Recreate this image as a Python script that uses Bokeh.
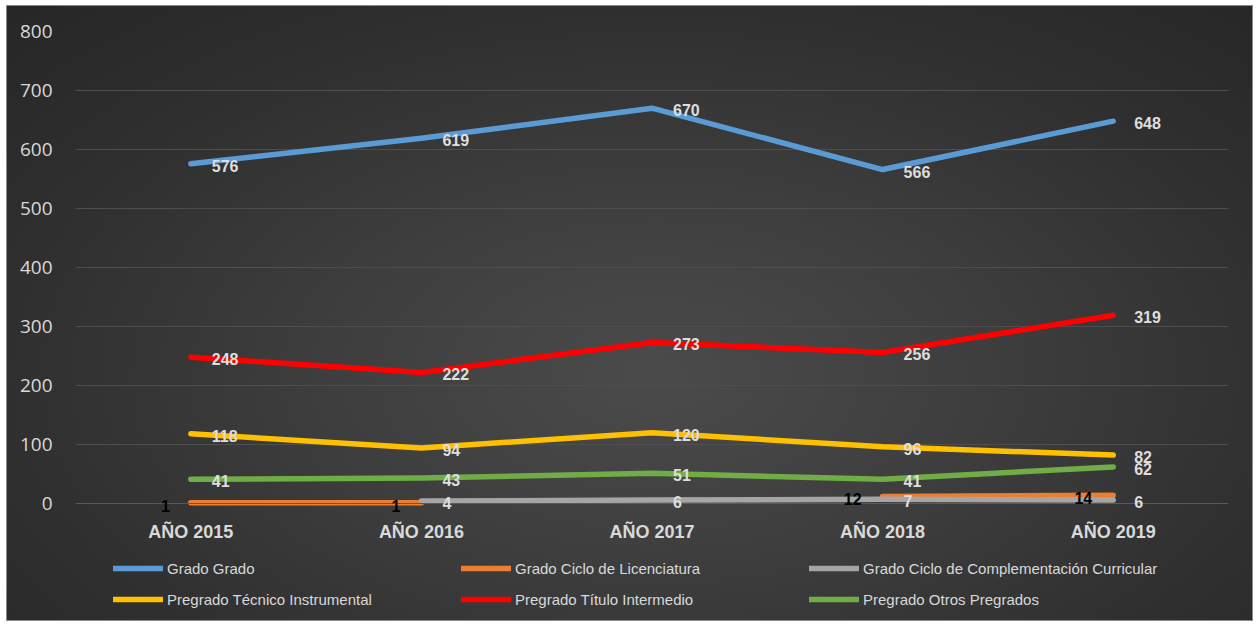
import math
from bokeh.plotting import figure
from bokeh.models import (ColumnDataSource, Range1d, FactorRange, FixedTicker,
                          Legend, LegendItem, LabelSet)
from bokeh.core.properties import value
from bokeh.embed import file_html
from bokeh.resources import INLINE

NaN = float("nan")

# ---------------- data ----------------
years = ["AÑO 2015", "AÑO 2016", "AÑO 2017", "AÑO 2018", "AÑO 2019"]
grado_grado = [576, 619, 670, 566, 648]
grado_licenciatura = [1, 1, NaN, 12, 14]
grado_complementacion = [NaN, 4, 6, 7, 6]
pregrado_tecnico = [118, 94, 120, 96, 82]
pregrado_titulo = [248, 222, 273, 256, 319]
pregrado_otros = [41, 43, 51, 41, 62]
y_ticks = [0, 100, 200, 300, 400, 500, 600, 700, 800]

series_names = [
    "Grado Grado",
    "Grado Ciclo de Licenciatura",
    "Grado Ciclo de Complementación Curricular",
    "Pregrado Técnico Instrumental",
    "Pregrado Título Intermedio",
    "Pregrado Otros Pregrados",
]
series_values = [grado_grado, grado_licenciatura, grado_complementacion,
                 pregrado_tecnico, pregrado_titulo, pregrado_otros]
series_colors = ["#5B9BD5", "#ED7D31", "#A5A5A5", "#FFC000", "#FF0000", "#70AD47"]
# label side: "left" labels are black, placed left of the point
label_side = ["right", "left", "right", "right", "right", "right"]

# ---------------- figure ----------------
# the frame extends below zero so that the legend area sits inside it;
# the x axis is pinned at y = 0
p = figure(
    x_range=FactorRange(*years, range_padding=0),
    y_range=Range1d(-195, 800),
    width=1245, height=614,
    output_backend="svg", toolbar_location=None,
    min_border_left=68, min_border_right=24,
    min_border_top=25, min_border_bottom=2,
)
p.margin = (6, 0, 0, 7)
p.border_fill_color = None
p.background_fill_color = None
p.outline_line_color = None
p.styles = {
    "background": "radial-gradient(ellipse 75% 85% at 52% 60%, #4b4b4b 0%, "
                  "#3e3e3e 35%, #2f2f2f 70%, #262626 100%)",
    "outline": "1px solid #8a8a8a",
}

# axes
p.yaxis.ticker = FixedTicker(ticks=y_ticks)
p.yaxis.axis_line_color = None
p.yaxis.major_tick_line_color = None
p.yaxis.minor_tick_line_color = None
p.yaxis.major_label_standoff = 17
p.yaxis.major_label_text_color = "#d9d9d9"
p.yaxis.major_label_text_font = "Open Sans"
p.yaxis.major_label_text_font_size = "19px"

p.xaxis.fixed_location = 0
p.xaxis.axis_line_color = "#5a5a5a"
p.xaxis.axis_line_width = 1
p.xaxis.major_tick_line_color = None
p.xaxis.minor_tick_line_color = None
p.xaxis.major_label_standoff = 13
p.xaxis.major_label_text_color = "#d9d9d9"
p.xaxis.major_label_text_font = "Liberation Sans"
p.xaxis.major_label_text_font_style = "bold"
p.xaxis.major_label_text_font_size = "18px"

p.xgrid.grid_line_color = None
p.ygrid.grid_line_color = "#4e4e4e"
p.ygrid.grid_line_width = 1

# lines
renderers = []
for name, vals, color in zip(series_names, series_values, series_colors):
    src = ColumnDataSource(dict(x=years, y=vals))
    r = p.line("x", "y", source=src, line_color=color, line_width=5.5,
               line_cap="round", line_join="round")
    renderers.append(r)

# data labels
for vals, side in zip(series_values, label_side):
    xs = [x for x, v in zip(years, vals) if not math.isnan(v)]
    ys = [v for v in vals if not math.isnan(v)]
    txt = [str(int(v)) for v in ys]
    src = ColumnDataSource(dict(x=xs, y=ys, t=txt))
    if side == "right":
        lab = LabelSet(x="x", y="y", text="t", source=src, x_offset=21, y_offset=-2,
                       text_align="left", text_baseline="middle",
                       text_color="#dedede", text_font=value("Liberation Sans"),
                       text_font_style="bold", text_font_size="16px")
    else:
        lab = LabelSet(x="x", y="y", text="t", source=src, x_offset=-21, y_offset=-3,
                       text_align="right", text_baseline="middle",
                       text_color="#000000", text_font=value("Liberation Sans"),
                       text_font_style="bold", text_font_size="16px")
    p.add_layout(lab)

# legend
legend = Legend(
    items=[LegendItem(label=n, renderers=[r]) for n, r in zip(series_names, renderers)],
    location=(38, 7), orientation="horizontal", ncols=3,
    glyph_width=50, glyph_height=24, label_height=24, label_width=287,
    label_standoff=4, spacing=7, padding=0, margin=0,
    border_line_color=None, background_fill_alpha=0,
    label_text_color="#d9d9d9", label_text_font="Liberation Sans",
    label_text_font_size="15px",
)
p.add_layout(legend)

open("out.html", "w").write(file_html(p, INLINE))
